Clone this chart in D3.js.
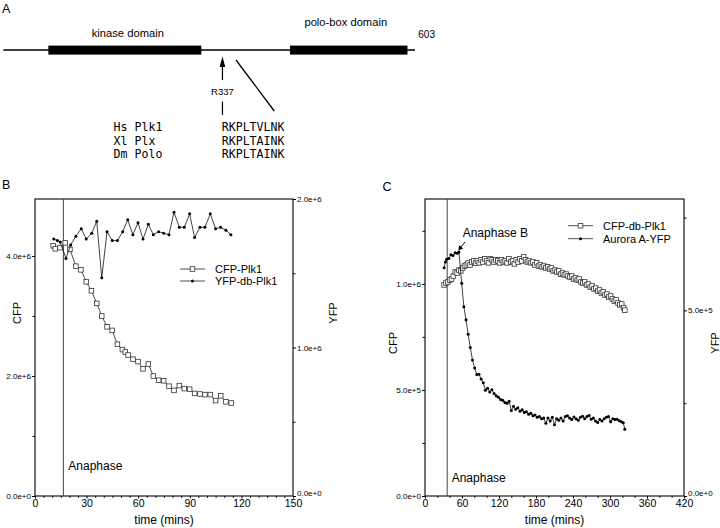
<!DOCTYPE html>
<html><head><meta charset="utf-8">
<script src="https://cdn.jsdelivr.net/npm/d3@7"></script>
<style>
body{margin:0;background:#fff}
svg{display:block;font-family:"Liberation Sans",Arial,Helvetica,sans-serif}
</style>
</head><body>
<svg id="chart" width="720" height="528"></svg>
<script>
// ---------- Panel A data ----------
const proteinLength = 603;
const domainNames = ["kinase domain", "polo-box domain"];
const domainStart = [66, 420];
const domainEnd = [290, 592];
const siteResidue = 321;
const siteLabel = "R337";
const speciesNames = ["Hs Plk1", "Xl Plx", "Dm Polo"];
const motifSeqs = ["RKPLTVLNK", "RKPLTAINK", "RKPLTAINK"];

// ---------- Panel B data ----------
const bTimeCFP = [10.6,11.8,14.5,17.6,20.3,23.8,26.7,29.8,32.8,35.9,38.8,41.9,44.9,47.9,50.8,52.5,54.1,57.0,59.9,62.8,65.9,68.8,71.9,74.8,77.9,80.8,83.9,86.8,89.9,92.8,95.9,98.8,101.9,105.0,108.0,111.0,114.1];
const bCFP = [4.17,4.12,4.14,4.22,4.11,3.83,3.77,3.57,3.42,3.21,3.00,2.82,2.76,2.53,2.44,2.40,2.35,2.28,2.24,2.12,2.20,2.00,1.93,1.92,1.83,1.76,1.84,1.79,1.78,1.71,1.70,1.69,1.69,1.59,1.67,1.57,1.55]; // x1e6
const bTimeYFP = [10.9,13.0,14.7,18.0,20.7,23.8,26.9,29.8,33.0,35.9,38.8,41.9,44.9,47.9,51.0,53.9,56.9,59.9,62.8,65.9,68.8,71.9,74.8,77.9,80.8,83.9,86.8,89.9,92.8,95.9,98.8,101.9,105.0,107.9,111.0,113.9];
const bYFP = [1.73,1.72,1.71,1.60,1.69,1.75,1.80,1.73,1.77,1.85,1.47,1.78,1.72,1.72,1.78,1.86,1.76,1.84,1.73,1.83,1.76,1.78,1.77,1.76,1.91,1.81,1.81,1.90,1.74,1.81,1.81,1.90,1.80,1.81,1.79,1.76]; // x1e6
const bAnaphase = 16.5;
const bLegend = ["CFP-Plk1", "YFP-db-Plk1"];
const bXTicks = [0,30,60,90,120,150];
const bLeftTicks = [0,2e6,4e6];
const bRightTicks = [0,1e6,2e6];

// ---------- Panel C data ----------
const cTimeCFP = [31,34,37,40,43,46,49,52,55,58,61,64,67,70,73,76,79,82,85,88,91,94,97,100,103,106,109,112,115,118,121,124,127,130,133,136,139,142,145,148,151,154,157,160,163,166,169,172,175,178,181,184,187,190,193,196,199,202,205,208,211,214,217,220,223,226,229,232,235,238,241,244,247,250,253,256,259,262,265,268,271,274,277,280,283,286,289,292,295,298,301,304,307,310,313,316,319,322,324];
const cCFP = [0.995,1.004,1.009,1.018,1.023,1.037,1.056,1.051,1.065,1.061,1.075,1.084,1.089,1.098,1.089,1.103,1.108,1.098,1.108,1.099,1.113,1.103,1.118,1.108,1.099,1.118,1.113,1.103,1.113,1.108,1.099,1.113,1.103,1.108,1.099,1.118,1.103,1.108,1.094,1.113,1.103,1.118,1.108,1.127,1.113,1.103,1.108,1.099,1.103,1.089,1.099,1.084,1.089,1.080,1.084,1.075,1.080,1.070,1.075,1.061,1.065,1.056,1.061,1.046,1.051,1.042,1.046,1.037,1.032,1.037,1.023,1.028,1.018,1.023,1.009,1.004,1.009,0.995,0.999,0.985,0.990,0.976,0.980,0.966,0.971,0.957,0.962,0.947,0.952,0.938,0.943,0.929,0.919,0.924,0.910,0.901,0.905,0.887,0.876]; // x1e6
const cTimeYFP = [31,33,35,38.5,42,45.5,49,52.5,55,59.5,63,66.5,70,73.5,77,80.5,84,87.5,91,94.5,98,101.5,105,108.5,112,115.5,119,122.5,126,129.5,133,136.5,140,143.5,147,150.5,154,157.5,161,164.5,168,171.5,175,178.5,182,185.5,189,192.5,196,199.5,203,206.5,210,213.5,217,220.5,224,227.5,231,234.5,238,241.5,245,248.5,252,255.5,259,262.5,266,269.5,273,276.5,280,283.5,287,290.5,294,297.5,301,304.5,308,311.5,315,318.5,321.5,324];
const cYFP = [6.15,6.30,6.38,6.40,6.50,6.48,6.55,6.54,6.57,5.73,5.10,4.75,4.36,4.00,3.66,3.45,3.27,3.28,3.15,3.05,2.85,2.90,2.80,2.86,2.76,2.70,2.66,2.60,2.58,2.52,2.50,2.55,2.30,2.42,2.34,2.38,2.28,2.32,2.25,2.27,2.20,2.23,2.16,2.18,2.12,2.14,2.08,2.10,1.96,2.10,2.02,2.12,1.92,2.08,2.04,2.10,2.02,2.14,2.16,2.10,2.06,2.13,2.08,2.04,2.12,2.15,2.08,2.14,2.17,2.07,2.10,2.02,1.98,2.06,2.02,2.08,2.12,2.14,2.00,2.08,2.06,2.07,2.03,2.00,1.97,1.80]; // x1e5
const cAnaphase = 36;
const cLegend = ["CFP-db-Plk1", "Aurora A-YFP"];
const cXTicks = [0,60,120,180,240,300,360,420];
const cLeftTicks = [0,5e5,1e6];
const cRightTicks = [0,5e5];

// ---------- drawing ----------
const svg = d3.select("#chart");
const fmt = d3.format(".1e");

// Panel A
const gA = svg.append("g");
gA.append("text").attr("x", 2).attr("y", 12.5).attr("font-size", 12.5).text("A");
const xA = d3.scaleLinear().domain([0, proteinLength]).range([3.3, 415]);
gA.append("line").attr("x1", xA(0)).attr("x2", xA(proteinLength)).attr("y1", 50).attr("y2", 50)
  .attr("stroke", "#000").attr("stroke-width", 1.6);
domainNames.forEach((name, i) => {
  gA.append("rect").attr("x", xA(domainStart[i])).attr("y", 45.6)
    .attr("width", xA(domainEnd[i]) - xA(domainStart[i])).attr("height", 9).attr("fill", "#000");
  gA.append("text").attr("x", (xA(domainStart[i]) + xA(domainEnd[i])) / 2 + (i === 0 ? 3 : -3))
    .attr("y", i === 0 ? 37.3 : 25.7).attr("text-anchor", "middle").attr("font-size", 11.2).text(name);
});
gA.append("text").attr("x", xA(proteinLength) + 3.3).attr("y", 37.5).attr("font-size", 10).text(String(proteinLength));
const sx = xA(siteResidue);
gA.append("path").attr("d", `M${sx},56.5 L${sx-2.8},67 L${sx+2.8},67 Z`).attr("fill", "#000");
gA.append("line").attr("x1", sx).attr("x2", sx).attr("y1", 66).attr("y2", 80).attr("stroke", "#000").attr("stroke-width", 1.2);
gA.append("text").attr("x", sx).attr("y", 95).attr("text-anchor", "middle").attr("font-size", 9.5).text(siteLabel);
gA.append("line").attr("x1", sx).attr("x2", sx).attr("y1", 101.5).attr("y2", 115).attr("stroke", "#000").attr("stroke-width", 1.2);
gA.append("line").attr("x1", 236).attr("y1", 60).attr("x2", 274.3).attr("y2", 111).attr("stroke", "#000").attr("stroke-width", 1.3);
speciesNames.forEach((s, i) => {
  gA.append("text").attr("x", 113.5).attr("y", 131 + i * 13.7)
    .attr("font-family", "'DejaVu Sans Mono', 'Liberation Mono', monospace").attr("font-size", 11.6).text(s);
  gA.append("text").attr("x", 221.7).attr("y", 131 + i * 13.7)
    .attr("font-family", "'DejaVu Sans Mono', 'Liberation Mono', monospace").attr("font-size", 11.6).text(motifSeqs[i]);
});

// generic two-axis panel
function panel(cfg) {
  const g = svg.append("g");
  const x = d3.scaleLinear().domain(cfg.xDomain).range([cfg.left, cfg.right]);
  const yL = d3.scaleLinear().domain(cfg.yLDomain).range([cfg.bottom, cfg.top]);
  const yR = d3.scaleLinear().domain(cfg.yRDomain).range([cfg.bottom, cfg.top]);

  g.append("text").attr("x", cfg.letterX).attr("y", cfg.letterY).attr("font-size", 12.5).text(cfg.letter);

  // minor ticks
  const minor = (axis, sel) => { sel.call(axis); sel.select(".domain").remove(); sel.selectAll("text").remove(); };
  minor(d3.axisBottom(x).tickValues(cfg.xMinor).tickSize(1.8), g.append("g").attr("transform", `translate(0,${cfg.bottom})`));
  minor(d3.axisLeft(yL).tickValues(cfg.yLMinor).tickSize(2.5), g.append("g").attr("transform", `translate(${cfg.left},0)`));
  minor(d3.axisRight(yR).tickValues(cfg.yRMinor).tickSize(2.5), g.append("g").attr("transform", `translate(${cfg.right},0)`));

  // major axes
  const ax = g.append("g").attr("transform", `translate(0,${cfg.bottom})`)
    .call(d3.axisBottom(x).tickValues(cfg.xTicks).tickSize(2.5).tickPadding(0.8).tickFormat(d3.format("d")));
  ax.select(".domain").remove();
  ax.selectAll("text").attr("font-size", 10.5).attr("font-family", "'Liberation Sans', Arial, sans-serif");
  const al = g.append("g").attr("transform", `translate(${cfg.left},0)`)
    .call(d3.axisLeft(yL).tickValues(cfg.yLTicks).tickSize(3).tickPadding(1).tickFormat(fmt));
  al.select(".domain").remove();
  al.selectAll("text").attr("font-size", 8).attr("font-family", "'Liberation Sans', Arial, sans-serif");
  const ar = g.append("g").attr("transform", `translate(${cfg.right},0)`)
    .call(d3.axisRight(yR).tickValues(cfg.yRTicks).tickSize(3).tickPadding(1).tickFormat(fmt));
  ar.select(".domain").remove();
  ar.selectAll("text").attr("font-size", 8).attr("font-family", "'Liberation Sans', Arial, sans-serif")
    .attr("dy", d => d === 0 ? "-0.05em" : "0.32em");

  // frame
  g.append("rect").attr("x", cfg.left).attr("y", cfg.top).attr("width", cfg.right - cfg.left)
    .attr("height", cfg.bottom - cfg.top).attr("fill", "none").attr("stroke", "#000").attr("stroke-width", 1.1);

  // anaphase line
  g.append("line").attr("x1", x(cfg.anaphase)).attr("x2", x(cfg.anaphase)).attr("y1", cfg.top).attr("y2", cfg.bottom)
    .attr("stroke", "#444").attr("stroke-width", 1);

  // axis titles
  g.append("text").attr("x", (cfg.left + cfg.right) / 2).attr("y", 524).attr("text-anchor", "middle")
    .attr("font-size", 12).text("time (mins)");
  g.append("text").attr("transform", `translate(${cfg.lTitleX},${cfg.titleY}) rotate(-90)`).attr("text-anchor", "middle")
    .attr("font-size", 11).text("CFP");
  g.append("text").attr("transform", `translate(${cfg.rTitleX},${cfg.titleY}) rotate(-90)`).attr("text-anchor", "middle")
    .attr("font-size", 11).text("YFP");
  g.append("text").attr("x", cfg.anaLabelX).attr("y", cfg.anaLabelY).attr("font-size", 12).text("Anaphase");

  // series: CFP (squares, left axis) and YFP (dots, right axis)
  const lineL = d3.line().x((d, i) => x(cfg.tCFP[i])).y(d => yL(d * cfg.cfpUnit));
  const lineR = d3.line().x((d, i) => x(cfg.tYFP[i])).y(d => yR(d * cfg.yfpUnit));
  g.append("path").attr("d", lineL(cfg.vCFP)).attr("fill", "none").attr("stroke", "#222").attr("stroke-width", 0.8);
  g.selectAll(null).data(cfg.vCFP).enter().append("rect")
    .attr("x", (d, i) => x(cfg.tCFP[i]) - 2.3).attr("y", d => yL(d * cfg.cfpUnit) - 2.3)
    .attr("width", 4.6).attr("height", 4.6).attr("fill", "#fff").attr("stroke", "#333").attr("stroke-width", 0.8);
  g.append("path").attr("d", lineR(cfg.vYFP)).attr("fill", "none").attr("stroke", "#111").attr("stroke-width", 0.8);
  g.selectAll(null).data(cfg.vYFP).enter().append("circle")
    .attr("cx", (d, i) => x(cfg.tYFP[i])).attr("cy", d => yR(d * cfg.yfpUnit)).attr("r", 1.5).attr("fill", "#000");

  // legend
  cfg.legend.forEach((name, i) => {
    const ly = cfg.legY + i * cfg.legDy;
    g.append("line").attr("x1", cfg.legX).attr("x2", cfg.legX + 25).attr("y1", ly).attr("y2", ly).attr("stroke", "#222").attr("stroke-width", 0.8);
    if (i === 0) g.append("rect").attr("x", cfg.legX + 12.5 - 2.3).attr("y", ly - 2.3).attr("width", 4.6).attr("height", 4.6)
      .attr("fill", "#fff").attr("stroke", "#333").attr("stroke-width", 0.8);
    else g.append("circle").attr("cx", cfg.legX + 12.5).attr("cy", ly).attr("r", 1.5).attr("fill", "#000");
    g.append("text").attr("x", cfg.legX + 35).attr("y", ly + 3.8).attr("font-size", 11).text(name);
  });
  return { g, x, yL, yR };
}

panel({
  letter: "B", letterX: 2, letterY: 189,
  left: 35, right: 293, top: 199, bottom: 496,
  xDomain: [0, 150], yLDomain: [0, 4.95e6], yRDomain: [0, 2e6],
  xTicks: bXTicks, xMinor: [5,10,15,20,25,35,40,45,50,55,65,70,75,80,85,95,100,105,110,115,125,130,135,140,145],
  yLTicks: bLeftTicks, yLMinor: [1e6, 3e6], yRTicks: bRightTicks, yRMinor: [5e5, 1.5e6],
  anaphase: bAnaphase, anaLabelX: 68.3, anaLabelY: 470,
  lTitleX: 21, rTitleX: 337, titleY: 313,
  tCFP: bTimeCFP, vCFP: bCFP, cfpUnit: 1e6, tYFP: bTimeYFP, vYFP: bYFP, yfpUnit: 1e6,
  legend: bLegend, legX: 180, legY: 269, legDy: 12
});

const pc = panel({
  letter: "C", letterX: 382.5, letterY: 190.5,
  left: 425, right: 684, top: 199, bottom: 496,
  xDomain: [0, 420], yLDomain: [0, 1.4e6], yRDomain: [0, 8e5],
  xTicks: cXTicks, xMinor: [20,40,80,100,140,160,200,220,260,280,320,340,380,400],
  yLTicks: cLeftTicks, yLMinor: [2.5e5, 7.5e5, 1.25e6], yRTicks: cRightTicks, yRMinor: [2.5e5, 7.5e5],
  anaphase: cAnaphase, anaLabelX: 451.7, anaLabelY: 482,
  lTitleX: 397, rTitleX: 719, titleY: 343,
  tCFP: cTimeCFP, vCFP: cCFP, cfpUnit: 1e6, tYFP: cTimeYFP, vYFP: cYFP, yfpUnit: 1e5,
  legend: cLegend, legX: 568, legY: 225.7, legDy: 13
});

// Anaphase B annotation with arrow
pc.g.append("text").attr("x", 462.7).attr("y", 237).attr("font-size", 12).text("Anaphase B");
pc.g.append("line").attr("x1", 465).attr("y1", 242).attr("x2", 460.5).attr("y2", 247.5).attr("stroke", "#000").attr("stroke-width", 1);
pc.g.append("path").attr("d", "M458.3,250.5 L459.2,245.2 L463.2,248.5 Z").attr("fill", "#000");
</script>
</body></html>
